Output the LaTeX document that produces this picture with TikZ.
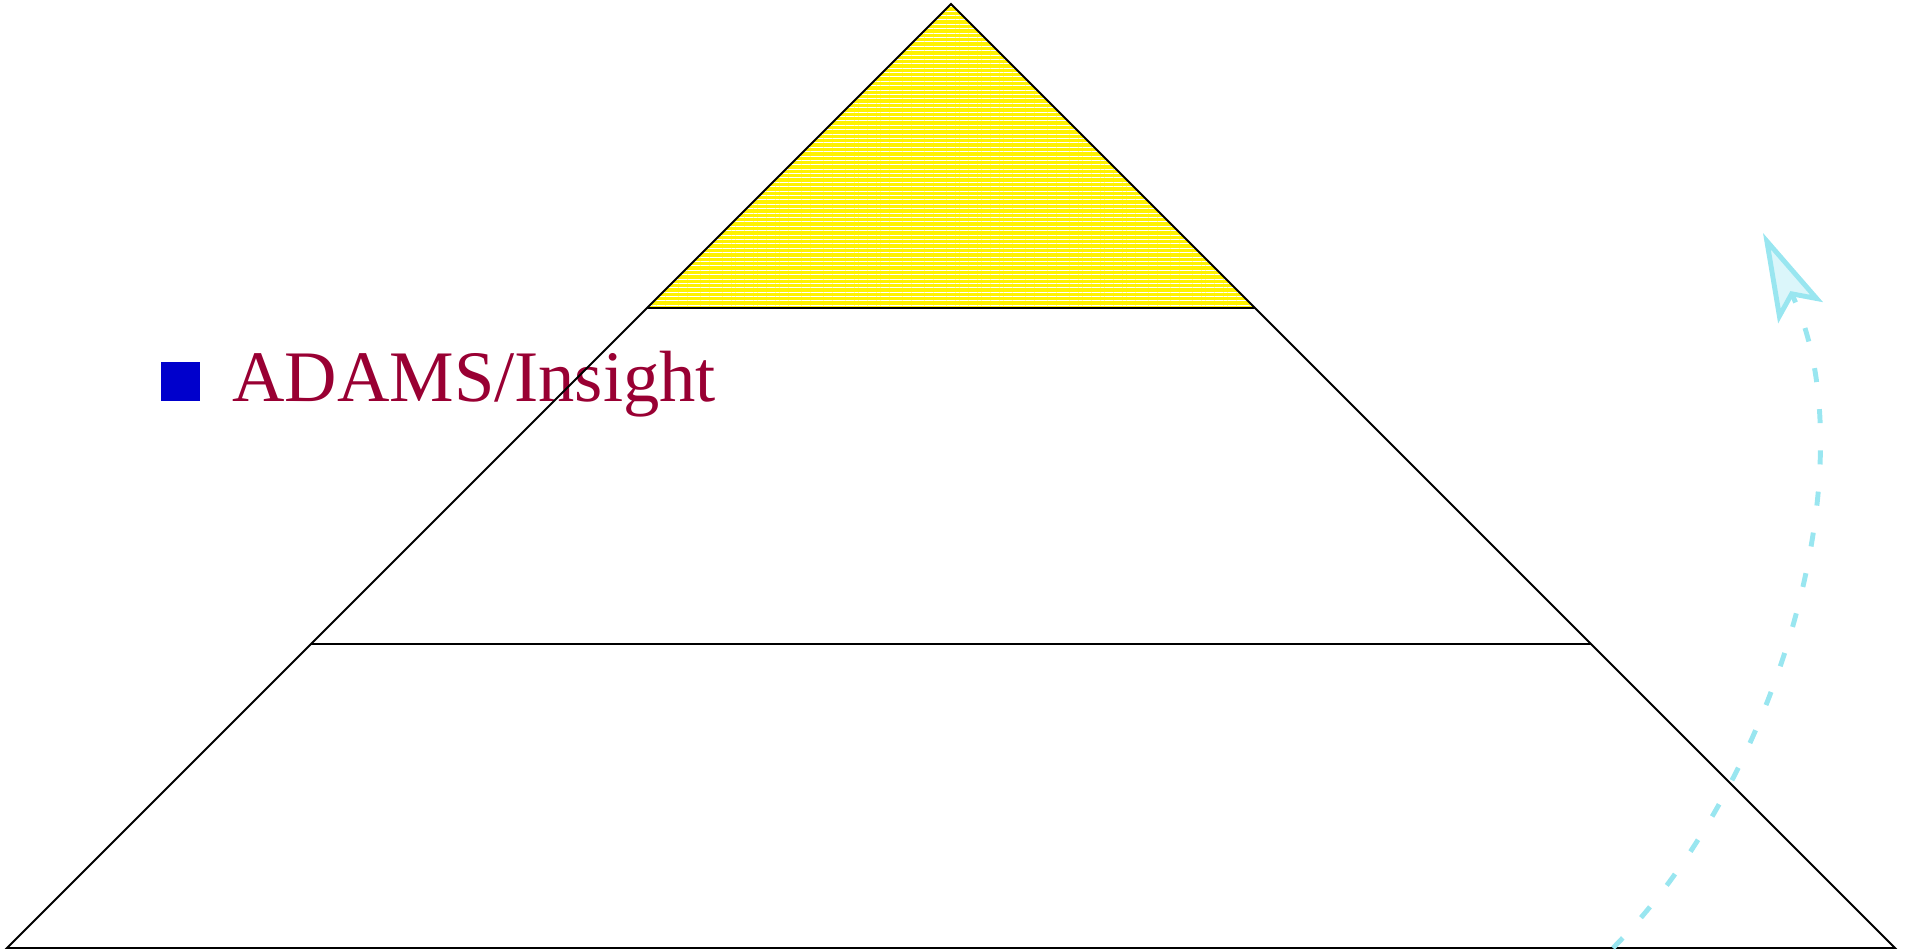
\documentclass[tikz,border=0pt]{standalone}
\usepackage{fontspec}
\setmainfont{Liberation Serif}
\usepackage{xcolor}
\usetikzlibrary{positioning,arrows.meta,patterns.meta}

\definecolor{bulletblue}{HTML}{0000CC}
\definecolor{titlered}{HTML}{990033}
\definecolor{arrowcyan}{HTML}{99E6F0}

\begin{document}
\begin{tikzpicture}[
  x=0.02cm, y=-0.02cm,
  edge/.style={line width=1.1pt, black},
  tipband/.style={pattern={Lines[angle=0,distance=2.5pt,line width=0.5pt]},
                  pattern color=white, preaction={fill=yellow}},
  bulletbox/.style={rectangle, fill=bulletblue, minimum size=22.1pt, inner sep=0pt},
  titletext/.style={font=\fontsize{41.3}{48}\selectfont, text=titlered,
                    inner sep=0pt, anchor=base west},
  risearrow/.style={line width=2.8pt, arrowcyan, dash pattern=on 8pt off 15.5pt,
                    -{Stealth[length=50pt,width=28pt,inset=10pt,fill=arrowcyan!35]}}
]
\useasboundingbox (0,0) rectangle (1908,951);

% pyramid corners and band ends
\coordinate (apex)  at (951,4);
\coordinate (baseL) at (7,948);
\coordinate (baseR) at (1895,948);
\coordinate (topL)  at (647,308);
\coordinate (topR)  at (1255,308);
\coordinate (midL)  at (311,644);
\coordinate (midR)  at (1591,644);

% yellow top
\path[tipband] (apex) -- (topL) -- (topR) -- cycle;

% bullet and title
\node[bulletbox, anchor=south west] (bullet) at (161,401) {};
\node[titletext] (title) at (232,401) {ADAMS/Insight};

% outline
\draw[edge] (apex) -- (baseL) -- (baseR) -- cycle;
\draw[edge] (topL) -- (topR);
\draw[edge] (midL) -- (midR);

% rising arrow
\coordinate (riseA) at (1613,948);
\coordinate (riseB) at (1763,233);
\draw[risearrow] (riseA) .. controls (1780,780) and (1870,460) .. (riseB);

\end{tikzpicture}
\end{document}
